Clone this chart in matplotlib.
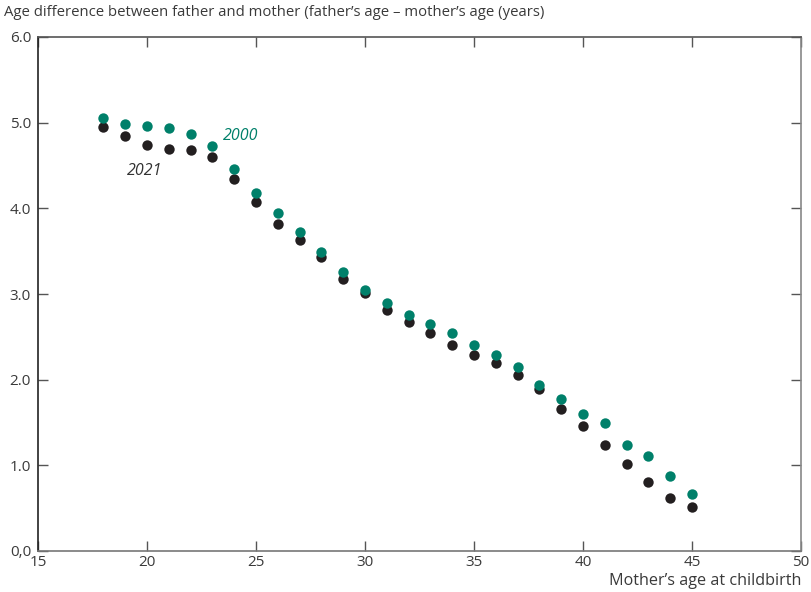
import matplotlib
matplotlib.use('Agg')
import matplotlib.pyplot as plt

plt.rcParams['font.family'] = ['Open Sans', 'DejaVu Sans']

# Mother's age at childbirth
ages = list(range(18, 46))

# Father's age - mother's age (years)
diff_2000 = [5.05, 4.99, 4.96, 4.94, 4.87, 4.73, 4.46, 4.18, 3.94, 3.72,
             3.49, 3.26, 3.05, 2.89, 2.76, 2.65, 2.54, 2.41, 2.29, 2.15,
             1.94, 1.78, 1.60, 1.50, 1.24, 1.11, 0.88, 0.67]
diff_2021 = [4.95, 4.84, 4.74, 4.69, 4.68, 4.60, 4.34, 4.07, 3.82, 3.63,
             3.43, 3.18, 3.01, 2.81, 2.67, 2.54, 2.41, 2.29, 2.19, 2.06,
             1.89, 1.66, 1.46, 1.24, 1.02, 0.80, 0.62, 0.51]

xticks = [15, 20, 25, 30, 35, 40, 45, 50]
yticks = [0, 1, 2, 3, 4, 5, 6]
ytick_labels = ['0,0', '1.0', '2.0', '3.0', '4.0', '5.0', '6.0']

green = '#00806a'
black = '#231f20'
text_col = '#3a3a3a'

fig = plt.figure(figsize=(8.11, 5.92), dpi=100)
ax = fig.add_axes([38/811, 41/592, 763/811, 514/592])

ax.scatter(ages, diff_2021, s=56, color=black, zorder=3, linewidths=0)
ax.scatter(ages, diff_2000, s=56, color=green, zorder=4, linewidths=0)

ax.text(24.3, 4.84, '2000', color=green, style='italic', fontsize=11.5,
        ha='center', va='center')
ax.text(19.9, 4.43, '2021', color='#333333', style='italic', fontsize=11.5,
        ha='center', va='center')

ax.set_xlim(15, 50)
ax.set_ylim(0, 6)
ax.set_xticks(xticks)
ax.set_yticks(yticks)
ax.set_yticklabels(ytick_labels)

ax.tick_params(direction='in', length=7, width=1, color='#555555',
               labelsize=11, labelcolor=text_col, top=True, right=True, pad=3)
ax.tick_params(axis='y', pad=5)

ax.spines['left'].set_color('#222222')
ax.spines['top'].set_color('#555555')
ax.spines['right'].set_color('#888888')
ax.spines['bottom'].set_color('#777777')
for sp in ax.spines.values():
    sp.set_linewidth(1.2)

fig.text(4/811, 1 - 13/592, "Age difference between father and mother (father\u2019s age \u2013 mother\u2019s age (years)",
         fontsize=10.7, color=text_col, ha='left', va='center')
fig.text(801/811, 1 - 581/592, "Mother\u2019s age at childbirth",
         fontsize=11.6, color=text_col, ha='right', va='center')

fig.savefig('out.png', dpi=100)
